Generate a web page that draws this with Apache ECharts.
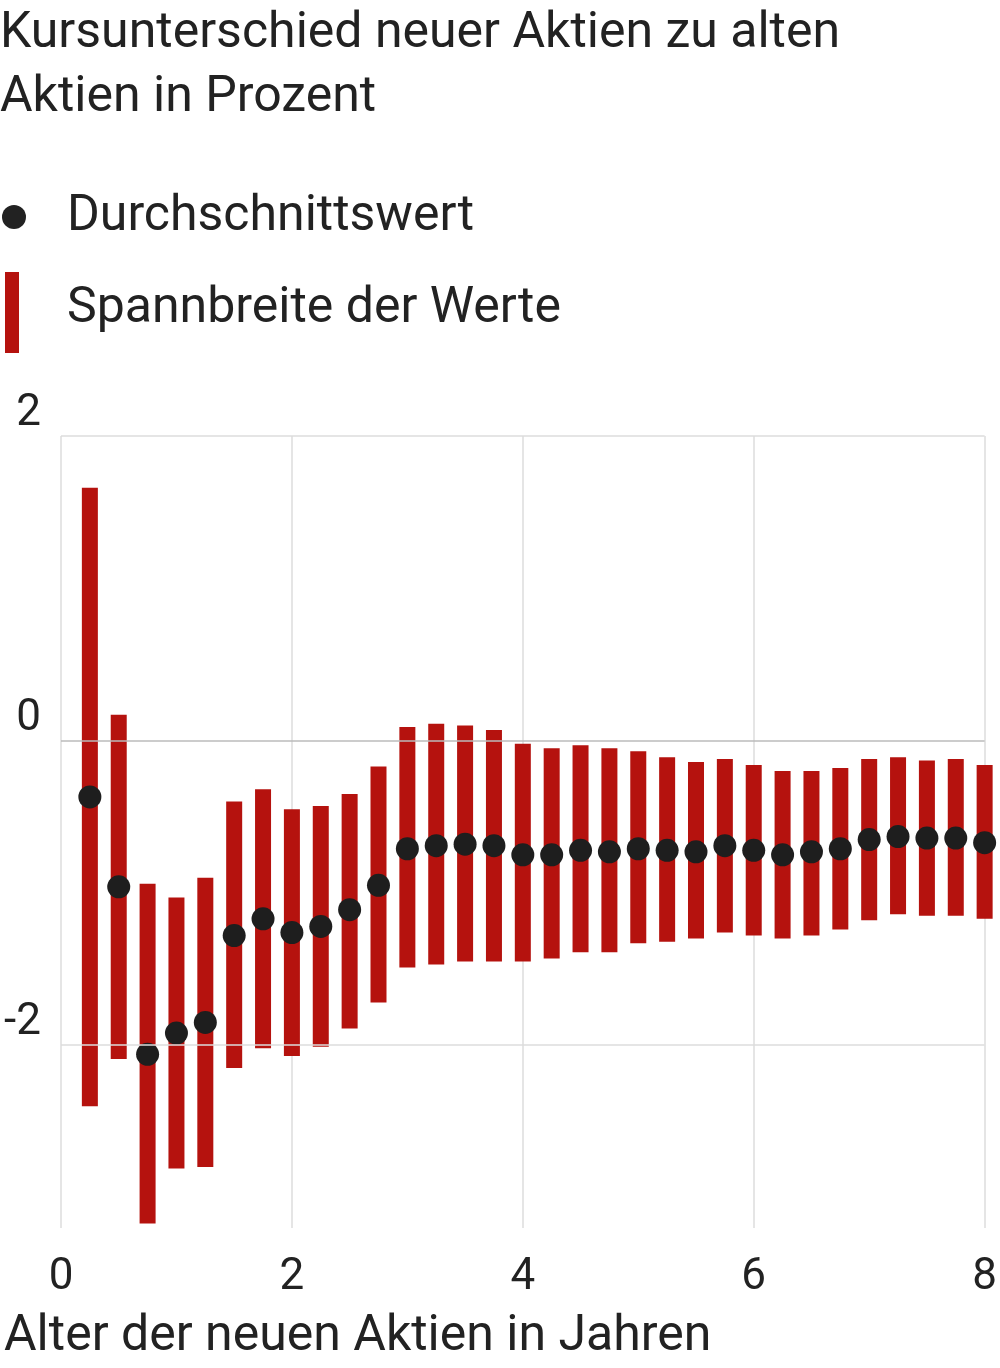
<!DOCTYPE html>
<html><head><meta charset="utf-8">
<script src="https://cdn.jsdelivr.net/npm/echarts@6/dist/echarts.min.js"></script>
<style>html,body{margin:0;padding:0;background:#fff}#c{width:1000px;height:1368px}</style>
</head><body><div id="c"></div>
<script>
// Alter in Jahren
var ages = [0.25,0.5,0.75,1,1.25,1.5,1.75,2,2.25,2.5,2.75,3,3.25,3.5,3.75,4,4.25,4.5,4.75,5,5.25,5.5,5.75,6,6.25,6.5,6.75,7,7.25,7.5,7.75,8];
var mean = [-0.37,-0.96,-2.06,-1.92,-1.85,-1.28,-1.17,-1.26,-1.22,-1.11,-0.95,-0.71,-0.69,-0.68,-0.69,-0.75,-0.75,-0.72,-0.73,-0.71,-0.72,-0.73,-0.69,-0.72,-0.75,-0.73,-0.71,-0.65,-0.63,-0.64,-0.64,-0.67];
var high = [1.66,0.17,-0.94,-1.03,-0.90,-0.40,-0.32,-0.45,-0.43,-0.35,-0.17,0.09,0.11,0.10,0.07,-0.02,-0.05,-0.03,-0.05,-0.07,-0.11,-0.14,-0.12,-0.16,-0.20,-0.20,-0.18,-0.12,-0.11,-0.13,-0.12,-0.16];
var low = [-2.40,-2.09,-3.17,-2.81,-2.80,-2.15,-2.02,-2.07,-2.01,-1.89,-1.72,-1.49,-1.47,-1.45,-1.45,-1.45,-1.43,-1.39,-1.39,-1.33,-1.32,-1.30,-1.26,-1.28,-1.30,-1.28,-1.24,-1.18,-1.14,-1.15,-1.15,-1.17];
var yTicks = [-2,0,2];

var font = 'Roboto, "Noto Sans", sans-serif';
var chart = echarts.init(document.getElementById('c'));
chart.setOption({
  animation: false,
  grid: {left: 61, right: 14, top: 436, bottom: 140},
  graphic: [
    {type:'text', left:0, top:2, style:{text:'Kursunterschied neuer Aktien zu alten\nAktien in Prozent', font:'50px '+font, fill:'#222', lineHeight:64}},
    {type:'circle', shape:{cx:14, cy:217, r:12}, style:{fill:'#222'}},
    {type:'text', left:67, top:192, style:{text:'Durchschnittswert', font:'50px '+font, fill:'#222'}},
    {type:'rect', shape:{x:5, y:272, width:14, height:81}, style:{fill:'#b5120e'}},
    {type:'text', left:67, top:284, style:{text:'Spannbreite der Werte', font:'50px '+font, fill:'#222'}},
    {type:'text', left:4, top:1312, style:{text:'Alter der neuen Aktien in Jahren', font:'50px '+font, fill:'#222'}}
  ],
  xAxis: {type:'value', min:0, max:8, interval:2,
    axisLine:{show:false}, axisTick:{show:false},
    axisLabel:{fontSize:44, color:'#222', fontFamily:font, margin:28},
    splitLine:{lineStyle:{color:'#ddd', width:1.5}}},
  yAxis: {type:'value', min:-3.2, max:2,
    axisLine:{show:false}, axisTick:{show:false}, splitLine:{show:false},
    axisLabel:{customValues:yTicks, fontSize:44, color:'#222', fontFamily:font, margin:20, verticalAlign:'bottom'}},
  series: [
    {type:'custom', data: ages.map(function(a,i){return [a, low[i], high[i]];}),
      renderItem: function(params, api){
        var p1 = api.coord([api.value(0), api.value(2)]);
        var p2 = api.coord([api.value(0), api.value(1)]);
        return {type:'rect', shape:{x:p1[0]-8, y:p1[1], width:16, height:p2[1]-p1[1]}, style:{fill:'#b5120e'}};
      },
      markLine: {silent:true, symbol:'none', label:{show:false},
        data: yTicks.map(function(v){return {yAxis:v, lineStyle:{color: v===0?'#bbb':'#ddd', width:1.5, type:'solid'}};})},
      z: 2},
    {type:'scatter', data: ages.map(function(a,i){return [a, mean[i]];}), symbolSize:23,
      itemStyle:{color:'#1e1e1e', opacity:1}, z: 3}
  ]
});
</script></body></html>
